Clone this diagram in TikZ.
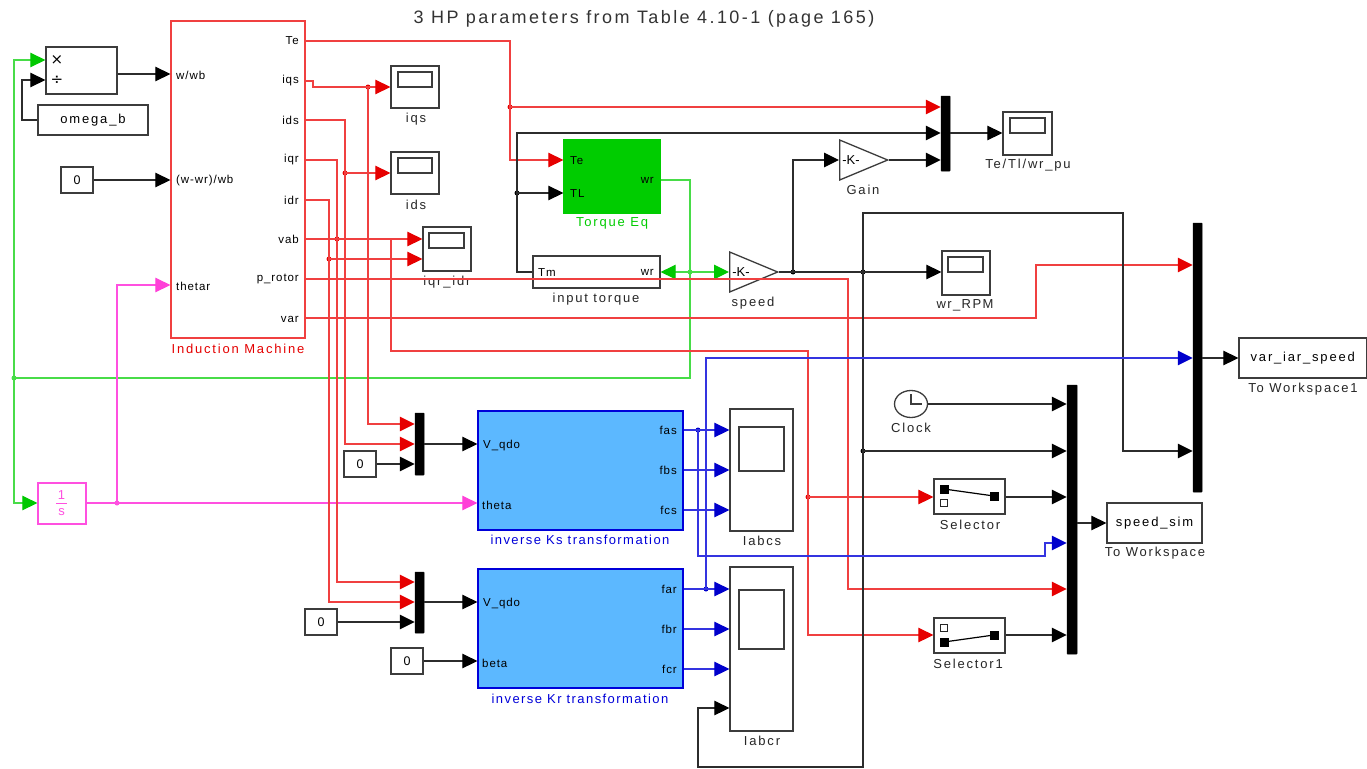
\documentclass[tikz,border=0pt]{standalone}
\usepackage{fontspec}
\setmainfont{Liberation Sans}
\newfontfamily\lab[LetterSpace=14]{Liberation Sans}
\newfontfamily\labb[LetterSpace=11]{Liberation Sans}
\newfontfamily\ttl[LetterSpace=13.5]{Liberation Sans}
\newfontfamily\prt[LetterSpace=8]{Liberation Sans}
\newfontfamily\sym{DejaVu Sans}
\usetikzlibrary{arrows.meta,shapes.geometric}
\definecolor{wr}{HTML}{F04040}\definecolor{tr}{HTML}{E60000}
\definecolor{wg}{HTML}{48DC48}\definecolor{tg}{HTML}{00C800}
\definecolor{wp}{HTML}{FF50E0}\definecolor{tp}{HTML}{FF40D8}
\definecolor{wb}{HTML}{3434E0}\definecolor{tb}{HTML}{0000CC}
\definecolor{wk}{HTML}{2C2C2C}\definecolor{edge}{HTML}{3C3C3C}
\definecolor{lblue}{HTML}{5CB8FF}\definecolor{lgreen}{HTML}{00CC00}
\tikzset{
  wirebase/.style={line width=1.2pt,line join=miter},
  rw/.style={wirebase,draw=wr},
  gw/.style={wirebase,draw=wg},
  pw/.style={wirebase,draw=wp},
  bw/.style={wirebase,draw=wb},
  kw/.style={wirebase,draw=wk},
  rt/.style={-{Triangle[length=15pt,width=14.5pt,color=tr]}},
  gt/.style={-{Triangle[length=15pt,width=14.5pt,color=tg]}},
  pt/.style={-{Triangle[length=15pt,width=14.5pt,color=tp]}},
  bt/.style={-{Triangle[length=15pt,width=14.5pt,color=tb]}},
  kt/.style={-{Triangle[length=15pt,width=14.5pt,color=black]}},
  boxs/.style={draw=edge,line width=1.3pt,fill=white},
  muxs/.style={draw=black,fill=black,line width=0.5pt,rounded corners=0.5pt},
  plab/.style={inner sep=0pt,font=\prt\fontsize{11.5}{13}\selectfont,text=black},
  nlab/.style={inner sep=0pt,font=\lab\fontsize{13}{15}\selectfont,text=black!85},
  blab/.style={inner sep=0pt,font=\labb\fontsize{13}{15}\selectfont,text=blue!85!black},
  dots/.style={circle,inner sep=0pt,minimum size=5pt},
  gains/.style={isosceles triangle,isosceles triangle stretches,draw=edge,line width=1.3pt,fill=white,minimum width=40pt,minimum height=48pt,inner sep=0pt,anchor=lower side},
  swon/.style={draw=black,fill=black,line width=0.5pt,inner sep=0pt,minimum width=8.5pt,minimum height=8pt},
  swoff/.style={draw=black!85,fill=white,line width=1.1pt,inner sep=0pt,minimum size=6.5pt},
}
\newcommand{\blk}[7][]{%
  \pgfmathsetmacro{\rsW}{#5-#3}\pgfmathsetmacro{\rsH}{#6-#4}%
  \pgfmathsetmacro{\rsX}{(#5+#3)/2}\pgfmathsetmacro{\rsY}{(#6+#4)/2}%
  \node[boxs,inner sep=0pt,minimum width=\rsW pt,minimum height=\rsH pt,#1] (#2) at (\rsX,\rsY) {#7};}
\newcommand{\jct}[4]{\node[dots,fill=#2] (#1) at (#3,#4) {};}
\newcommand{\lbl}[6][]{\node[#1,anchor=#3] (#2) at (#4,#5) {#6};}
\begin{document}
\begin{tikzpicture}[x=1pt,y=-1pt]
\useasboundingbox[fill=white] (0,0) rectangle (1367,768);
% title
\node[inner sep=0pt,font=\ttl\fontsize{18}{20}\selectfont,text=black!80] (title) at (644,18.5) {3 HP parameters from Table 4.10-1 (page 165)};
% blocks
\blk{prod}{46}{47}{117}{94}{}
\node[inner sep=0pt,font=\sym\fontsize{15}{17}\selectfont] (prodx) at (57,60) {×};
\node[inner sep=0pt,font=\sym\fontsize{15}{17}\selectfont] (prodd) at (57,80) {÷};
\blk{omega}{38}{105}{148}{135}{\lab\fontsize{13}{15}\selectfont omega\_b}
\blk{cA}{61}{167}{93}{193}{\fontsize{12.5}{15}\selectfont 0}
\blk[draw=wr]{im}{171}{21}{305}{338}{}
\node[nlab,text=red!90!black] (imlabel) at (238,349) {Induction Machine};
\blk[draw=wp]{integ}{38}{483}{86}{524}{}
\node[inner sep=0pt,font=\fontsize{13}{15}\selectfont,text=wp] (integN) at (61.5,495) {1};
\node[inner sep=0pt,font=\fontsize{13}{15}\selectfont,text=wp] (integD) at (61.5,512) {s};
\draw[wp,line width=1pt] (56,503) -- (67,503);
% IM ports
\lbl[plab]{pWwb}{west}{176}{75}{w/wb}
\lbl[plab]{pWwr}{west}{176}{181}{(w-wr)/wb}
\lbl[plab]{pThr}{west}{176}{286}{thetar}
\lbl[plab]{pTe}{east}{299}{41}{Te}
\lbl[plab]{pIqs}{east}{299}{81}{iqs}
\lbl[plab]{pIds}{east}{299}{120}{ids}
\lbl[plab]{pIqr}{east}{299}{160}{iqr}
\lbl[plab]{pIdr}{east}{299}{200}{idr}
\lbl[plab]{pVab}{east}{299}{239}{vab}
\lbl[plab]{pPro}{east}{299}{279}{p\_rotor}
\lbl[plab]{pVar}{east}{299}{319}{var}
% scopes
\blk{sIqs}{391}{66}{439}{108}{}
\blk{sIqsS}{398}{72}{432}{87}{}
\node[nlab] (sIqsL) at (416,119) {iqs};
\blk{sIds}{391}{152}{439}{194}{}
\blk{sIdsS}{398}{158}{432}{173}{}
\node[nlab] (sIdsL) at (416,205) {ids};
\blk{sIqr}{423}{227}{471}{271}{}
\blk{sIqrS}{429}{233}{464}{248}{}
\node[nlab] (sIqrL) at (447,282) {iqr\_idr};
\blk{sTe}{1003}{112}{1052}{155}{}
\blk{sTeS}{1010}{118}{1045}{133}{}
\node[nlab] (sTeL) at (1028,165.5) {Te/Tl/wr\_pu};
\blk{sWr}{942}{251}{990}{295}{}
\blk{sWrS}{948}{257}{983}{272}{}
\node[nlab,font=\labb\fontsize{13}{15}\selectfont] (sWrL) at (965,305) {wr\_RPM};
% torque
\blk[draw=lgreen,fill=lgreen]{teq}{564}{140}{660}{213}{}
\lbl[plab]{pTqTe}{west}{570}{161}{Te}
\lbl[plab]{pTqTL}{west}{570}{194}{TL}
\lbl[plab]{pTqWr}{east}{654}{180}{wr}
\node[nlab,text=lgreen] (teqL) at (612,223) {Torque Eq};
\blk{itq}{533}{256}{660}{288}{}
\lbl[plab]{pItTm}{west}{538}{273}{Tm}
\lbl[plab]{pItWr}{east}{654}{272}{wr}
\node[nlab] (itqL) at (596,299) {input torque};
% gains
\node[gains] (speed) at (729,272) {};
\node[plab,font=\fontsize{13}{15}\selectfont] (speedK) at (741,272) {-K-};
\node[nlab] (speedL) at (753,303) {speed};
\node[gains] (gain) at (839,160) {};
\node[plab,font=\fontsize{13}{15}\selectfont] (gainK) at (851,160) {-K-};
\node[nlab] (gainL) at (863,190) {Gain};
% muxes
\blk[muxs]{muxA}{941}{96}{950}{171}{}
\blk[muxs]{muxB}{1193}{223}{1202}{492}{}
\blk[muxs]{muxC}{1067}{385}{1077}{654}{}
\blk[muxs]{muxD}{415}{413}{424}{475}{}
\blk[muxs]{muxE}{415}{572}{424}{633}{}
% sinks
\blk{vis}{1239}{338}{1366.5}{378}{\lab\fontsize{13}{15}\selectfont var\_iar\_speed}
\node[nlab] (visL) at (1303,389) {To Workspace1};
\blk{ssim}{1107}{503}{1202}{543}{\lab\fontsize{13}{15}\selectfont speed\_sim}
\node[nlab] (ssimL) at (1155,553) {To Workspace};
% inverse transforms
\blk[draw=blue!85!black,fill=lblue]{invS}{478}{411}{683}{530}{}
\lbl[plab]{pVs}{west}{483}{446}{V\_qdo}
\lbl[plab]{pTh}{west}{482}{505}{theta}
\lbl[plab]{pFas}{east}{677}{430}{fas}
\lbl[plab]{pFbs}{east}{677}{470}{fbs}
\lbl[plab]{pFcs}{east}{677}{510}{fcs}
\node[blab] (invSL) at (580,540) {inverse Ks transformation};
\blk[draw=blue!85!black,fill=lblue]{invR}{478}{569}{683}{688}{}
\lbl[plab]{pVr}{west}{483}{604}{V\_qdo}
\lbl[plab]{pBe}{west}{482}{663}{beta}
\lbl[plab]{pFar}{east}{677}{589}{far}
\lbl[plab]{pFbr}{east}{677}{629}{fbr}
\lbl[plab]{pFcr}{east}{677}{669}{fcr}
\node[blab] (invRL) at (580,699) {inverse Kr transformation};
% constants
\blk{cB}{344}{451}{376}{477}{\fontsize{12.5}{15}\selectfont 0}
\blk{cC}{305}{609}{337}{635}{\fontsize{12.5}{15}\selectfont 0}
\blk{cD}{391}{648}{423}{674}{\fontsize{12.5}{15}\selectfont 0}
% big scopes
\blk{sAs}{730}{409}{793}{531}{}
\blk{sAsS}{739}{427}{784}{471}{}
\node[nlab] (sAsL) at (762,541) {Iabcs};
\blk{sAr}{730}{567}{793}{731}{}
\blk{sArS}{739}{590}{784}{649}{}
\node[nlab] (sArL) at (762,741) {Iabcr};
% clock
\node[ellipse,draw=edge,line width=1.3pt,fill=white,minimum width=33pt,minimum height=27pt,inner sep=0pt] (clock) at (911,404) {};
\draw[edge,line width=1.1pt] (clock.north) ++(0,4.5) -- (clock.center) -- ++(11,0);
\node[nlab] (clockL) at (911,428) {Clock};
% selectors
\blk{selA}{934}{479}{1005}{514}{}
\node[swon] (selA1) at (944,489) {};
\node[swoff] (selA2) at (944,503) {};
\node[swon] (selA3) at (994,496) {};
\draw[black,line width=1.2pt] (selA1.center) -- (selA3.center);
\node[nlab] (selAL) at (970,525) {Selector};
\blk{selB}{934}{618}{1005}{653}{}
\node[swoff] (selB1) at (944,628) {};
\node[swon] (selB2) at (944,642) {};
\node[swon] (selB3) at (994,635) {};
\draw[black,line width=1.2pt] (selB2.center) -- (selB3.center);
\node[nlab] (selBL) at (968,664) {Selector1};
% junctions
\jct{jG}{wg}{14}{378}
\jct{jP}{wp}{117}{503}
\jct{jIqs}{tr}{368}{87}
\jct{jIds}{tr}{345}{173}
\jct{jIqr}{tr}{337}{239}
\jct{jIdr}{tr}{329}{259}
\jct{jTe}{tr}{510}{107}
\jct{jTL}{black}{517}{193}
\jct{jWr}{wg}{690}{272}
\jct{jSp}{black}{793}{272}
\jct{jSq}{black}{863}{272}
\jct{jClk}{black}{863}{451}
\jct{jSel}{tr}{808}{497}
\jct{jFas}{tb}{698}{430}
\jct{jFar}{tb}{706}{589}
% green
\draw[gw,gt] (teq.east |- 0,180) -- (690,180) -- (690,378) -- (jG.center) -- (14,60) -- (prod.west |- 0,60);
\draw[gw,gt] (jG.center) -- (14,503) -- (integ.west |- 0,503);
\draw[gw,gt] (jWr.center) -- (itq.east |- 0,272);
\draw[gw,gt] (jWr.center) -- (speed.lower side);
% pink
\draw[pw,pt] (integ.east |- 0,503) -- (invS.west |- 0,503);
\draw[pw,pt] (jP.center) -- (117,285) -- (im.west |- 0,285);
% product
\draw[kw,kt] (prod.east |- 0,74) -- (im.west |- 0,74);
\draw[kw,kt] (omega.west) -- (22,120) -- (22,80) -- (prod.west |- 0,80);
\draw[kw,kt] (cA.east) -- (im.west |- 0,180);
% red from IM
\draw[rw,rt] (im.east |- 0,41) -- (510,41) -- (510,160) -- (teq.west |- 0,160);
\draw[rw,rt] (jTe.center) -- (muxA.west |- 0,107);
\draw[rw,rt] (im.east |- 0,81) -- (313,81) -- (313,87) -- (sIqs.west |- 0,87);
\draw[rw,rt] (jIqs.center) -- (368,424) -- (muxD.west |- 0,424);
\draw[rw,rt] (im.east |- 0,120) -- (345,120) -- (345,444) -- (muxD.west |- 0,444);
\draw[rw,rt] (jIds.center) -- (sIds.west |- 0,173);
\draw[rw,rt] (im.east |- 0,160) -- (337,160) -- (337,582) -- (muxE.west |- 0,582);
\draw[rw,rt] (im.east |- 0,200) -- (329,200) -- (329,602) -- (muxE.west |- 0,602);
\draw[rw,rt] (jIdr.center) -- (sIqr.west |- 0,259);
\draw[rw,rt] (im.east |- 0,239) -- (sIqr.west |- 0,239);
\draw[rw,rt] (391,239) -- (391,351) -- (808,351) -- (808,635) -- (selB.west |- 0,635);
\draw[rw,rt] (jSel.center) -- (selA.west |- 0,497);
\draw[rw,rt] (im.east |- 0,279) -- (848,279) -- (848,589) -- (muxC.west |- 0,589);
\draw[rw,rt] (im.east |- 0,318) -- (1036,318) -- (1036,265) -- (muxB.west |- 0,265);
% black torque
\draw[kw,kt] (itq.west |- 0,272) -- (517,272) -- (517,133) -- (muxA.west |- 0,133);
\draw[kw,kt] (jTL.center) -- (teq.west |- 0,193);
\draw[kw,kt] (muxA.east |- 0,133) -- (sTe.west |- 0,133);
\draw[kw] (speed.apex) -- (jSp.center);
\draw[kw,kt] (jSp.center) -- (sWr.west |- 0,272);
\draw[kw,kt] (jSp.center) -- (793,160) -- (gain.lower side);
\draw[kw,kt] (gain.apex) -- (muxA.west |- 0,160);
\draw[kw,kt] (jSq.center) -- (863,213) -- (1123,213) -- (1123,451) -- (muxB.west |- 0,451);
\draw[kw,kt] (jSq.center) -- (863,767) -- (698,767) -- (698,708) -- (sAr.west |- 0,708);
\draw[kw,kt] (jClk.center) -- (muxC.west |- 0,451);
\draw[kw,kt] (clock.east) -- (muxC.west |- 0,404);
\draw[kw,kt] (selA.east |- 0,497) -- (muxC.west |- 0,497);
\draw[kw,kt] (selB.east |- 0,635) -- (muxC.west |- 0,635);
\draw[kw,kt] (muxC.east |- 0,523) -- (ssim.west |- 0,523);
\draw[kw,kt] (muxB.east |- 0,358) -- (vis.west |- 0,358);
\draw[kw,kt] (cB.east) -- (muxD.west |- 0,464);
\draw[kw,kt] (muxD.east |- 0,444) -- (invS.west |- 0,444);
\draw[kw,kt] (cC.east) -- (muxE.west |- 0,622);
\draw[kw,kt] (muxE.east |- 0,602) -- (invR.west |- 0,602);
\draw[kw,kt] (cD.east) -- (invR.west |- 0,661);
% blue
\draw[bw,bt] (invS.east |- 0,430) -- (sAs.west |- 0,430);
\draw[bw,bt] (invS.east |- 0,470) -- (sAs.west |- 0,470);
\draw[bw,bt] (invS.east |- 0,510) -- (sAs.west |- 0,510);
\draw[bw,bt] (invR.east |- 0,589) -- (sAr.west |- 0,589);
\draw[bw,bt] (invR.east |- 0,629) -- (sAr.west |- 0,629);
\draw[bw,bt] (invR.east |- 0,669) -- (sAr.west |- 0,669);
\draw[bw,bt] (jFas.center) -- (698,556) -- (1045,556) -- (1045,543) -- (muxC.west |- 0,543);
\draw[bw,bt] (jFar.center) -- (706,358) -- (muxB.west |- 0,358);
\end{tikzpicture}
\end{document}
